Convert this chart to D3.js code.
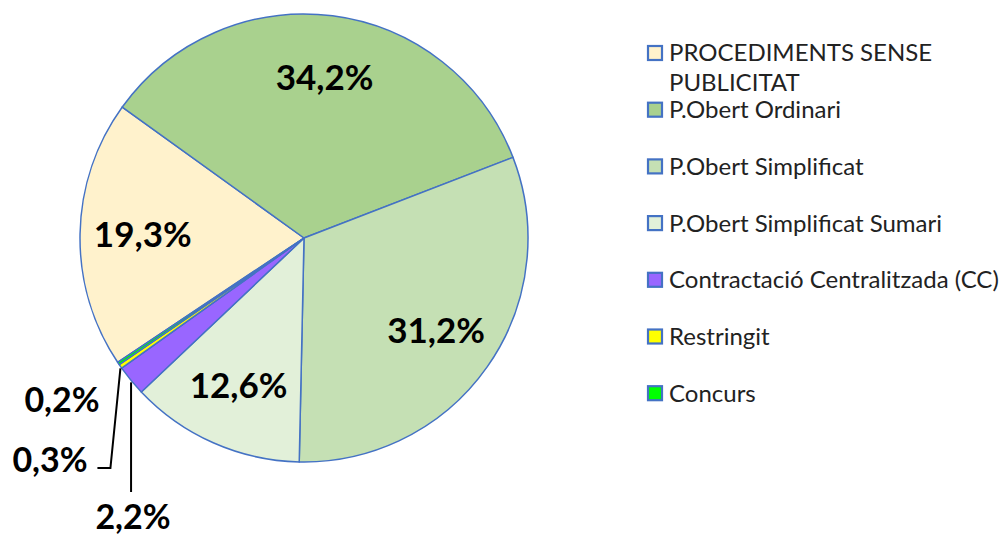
<!DOCTYPE html>
<html>
<head>
<meta charset="utf-8">
<script src="https://cdn.jsdelivr.net/npm/d3@7"></script>
<style>
    body { margin: 0; background: #fff; }
    svg { display: block; }
</style>
</head>
<body>
<svg width="1004" height="535"></svg>
<script>
// data
const categories = [
    "PROCEDIMENTS SENSE PUBLICITAT",
    "P.Obert Ordinari",
    "P.Obert Simplificat",
    "P.Obert Simplificat Sumari",
    "Contractació Centralitzada (CC)",
    "Restringit",
    "Concurs"
];
const values = [19.3, 34.2, 31.2, 12.6, 2.2, 0.3, 0.2];
const colors = ["#FFF2CC", "#A9D18E", "#C5E0B4", "#E2F0D9", "#9966FF", "#FFFF00", "#00FF00"];
const legendLines = [["PROCEDIMENTS SENSE", "PUBLICITAT"]];

const svg = d3.select("svg");
const cx = 304, cy = 238, radius = 224;
const fmt = v => d3.format(".1f")(v).replace(".", ",") + "%";

// first slice starts at ~236 degrees from 12 o'clock
const pie = d3.pie()
    .sort(null)
    .value(d => d)
    .startAngle(236.3 * Math.PI / 180)
    .endAngle((236.3 + 360) * Math.PI / 180);

const arcs = pie(values);
const arc = d3.arc().innerRadius(0).outerRadius(radius);
const labelArc = d3.arc().innerRadius(radius * 0.72).outerRadius(radius * 0.72);
const edgeArc = d3.arc().innerRadius(radius).outerRadius(radius);

const g = svg.append("g").attr("transform", `translate(${cx},${cy})`);

g.selectAll("path")
    .data(arcs)
    .enter().append("path")
    .attr("d", arc)
    .attr("fill", (d, i) => colors[i])
    .attr("stroke", "#4472C4")
    .attr("stroke-width", 1.5)
    .attr("stroke-linejoin", "round");

// labels inside the big slices
g.selectAll("text.inner")
    .data(arcs.filter(d => d.value > 5))
    .enter().append("text")
    .attr("class", "inner")
    .attr("transform", d => `translate(${labelArc.centroid(d)})`)
    .attr("text-anchor", "middle")
    .attr("dy", "0.35em")
    .style("font-family", "Lato, 'Noto Sans', sans-serif")
    .style("font-weight", "bold")
    .style("font-size", "35px")
    .attr("fill", "#000")
    .text(d => fmt(d.value));

// small slices: labels moved out, some with leader lines
// offsets are relative to the pie centre
const outside = [
    { idx: 4, x: -171, y: 279, leader: "down" },
    { idx: 5, x: -254, y: 222, leader: "elbow" },
    { idx: 6, x: -242, y: 162, leader: null }
];

outside.forEach(o => {
    const d = arcs[o.idx];
    const p = edgeArc.centroid(d);
    if (o.leader === "down") {
        g.append("path")
            .attr("d", `M${p[0]},${p[1] + 2}V${o.y - 25}`)
            .attr("fill", "none").attr("stroke", "#000").attr("stroke-width", 2);
    } else if (o.leader === "elbow") {
        const ex = p[0] - 10;
        g.append("path")
            .attr("d", `M${p[0]},${p[1] + 2}L${ex},${o.y + 8}H${ex - 13}`)
            .attr("fill", "none").attr("stroke", "#000").attr("stroke-width", 2);
    }
    g.append("text")
        .attr("x", o.x)
        .attr("y", o.y)
        .attr("text-anchor", "middle")
        .attr("dy", "0.35em")
        .style("font-family", "Lato, 'Noto Sans', sans-serif")
        .style("font-weight", "bold")
        .style("font-size", "34px")
        .attr("fill", "#000")
        .text(fmt(d.value));
});

// legend
const legend = svg.append("g").attr("transform", "translate(647,53)");
const rowStep = 56.7;

const item = legend.selectAll("g")
    .data(categories)
    .enter().append("g")
    .attr("transform", (d, i) => `translate(0,${i * rowStep})`);

item.append("rect")
    .attr("x", 1).attr("y", -7)
    .attr("width", 14).attr("height", 14)
    .attr("fill", (d, i) => colors[i])
    .attr("stroke", "#4472C4")
    .attr("stroke-width", 2.2);

item.append("text")
    .attr("x", 22)
    .attr("y", 0)
    .style("font-family", "Lato, 'Noto Sans', sans-serif")
    .style("font-size", "24px")
    .attr("fill", "#222")
    .each(function(d, i) {
        const lines = legendLines[i] || [d];
        lines.forEach((line, k) => {
            d3.select(this).append("tspan")
                .attr("x", 22)
                .attr("y", k * 30)
                .attr("dy", "0.35em")
                .text(line);
        });
    });
</script>
</body>
</html>
